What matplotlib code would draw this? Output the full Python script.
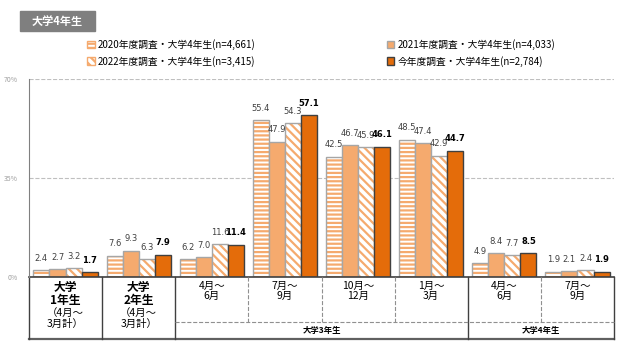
import matplotlib.pyplot as plt
import matplotlib.patches as mpatches
import numpy as np

plt.rcParams['font.family'] = ['Noto Sans CJK JP', 'DejaVu Sans']
plt.rcParams['hatch.linewidth'] = 1.6

series_names = [
    "2020年度調査・大学4年生(n=4,661)",
    "2021年度調査・大学4年生(n=4,033)",
    "2022年度調査・大学4年生(n=3,415)",
    "今年度調査・大学4年生(n=2,784)",
]
v2020 = [2.4, 7.6, 6.2, 55.4, 42.5, 48.5, 4.9, 1.9]
v2021 = [2.7, 9.3, 7.0, 47.9, 46.7, 47.4, 8.4, 2.1]
v2022 = [3.2, 6.3, 11.6, 54.3, 45.9, 42.9, 7.7, 2.4]
v2023 = [1.7, 7.9, 11.4, 57.1, 46.1, 44.7, 8.5, 1.9]

month_labels = ["4月～\n6月", "7月～\n9月", "10月～\n12月", "1月～\n3月", "4月～\n6月", "7月～\n9月"]
year_labels = ["大学\n1年生", "大学\n2年生"]
sub_lines = ["（4月～", "3月計）"]
span_labels = ["大学3年生", "大学4年生"]
yticks = [0, 35, 70]

orange = "#E46C0A"
light = "#F5AA6E"
edge_gray = "#A6A6A6"

fig = plt.figure(figsize=(6.27, 3.53), dpi=100)
ax = fig.add_axes([29 / 627, 1 - 277 / 353, (614 - 29) / 627, (277 - 79) / 353])

x = np.arange(len(v2020))
w = 0.22
offs = [-1.5 * w, -0.5 * w, 0.5 * w, 1.5 * w]

# 2020: horizontal stripes
ax.bar(x + offs[0], v2020, w, color="white", edgecolor=light, hatch="----", linewidth=0)
ax.bar(x + offs[0], v2020, w, fill=False, edgecolor=edge_gray, linewidth=1)
# 2021: solid light orange
ax.bar(x + offs[1], v2021, w, color=light, edgecolor=edge_gray, linewidth=1)
# 2022: diagonal stripes
ax.bar(x + offs[2], v2022, w, color="white", edgecolor=light, hatch="\\\\\\\\", linewidth=0)
ax.bar(x + offs[2], v2022, w, fill=False, edgecolor=edge_gray, linewidth=1)
# this year
ax.bar(x + offs[3], v2023, w, color=orange, edgecolor="#404040", linewidth=1)

for vals, off, bold in [(v2020, offs[0], False), (v2021, offs[1], False),
                        (v2022, offs[2], False), (v2023, offs[3], True)]:
    for xi, v in zip(x, vals):
        ax.text(xi + off, v + 2.6, f"{v:.1f}", ha="center", va="bottom",
                fontsize=6,
                color="black" if bold else "#404040",
                fontweight="bold" if bold else "normal", family="DejaVu Sans")

ax.set_xlim(-0.5, 7.5)
ax.set_ylim(0, 70)
ax.set_yticks(yticks)
ax.set_yticklabels([f"{t}%" for t in yticks], fontsize=5, color="#a0a0a0")
ax.tick_params(axis="y", length=0, pad=8)
ax.set_xticks([])
for t in [35, 70]:
    ax.axhline(t, color="#bfbfbf", linestyle="--", linewidth=0.8, zorder=0)
for s in ["top", "right", "bottom"]:
    ax.spines[s].set_visible(False)
ax.spines["left"].set_color("#808080")

# table below axes
tr = ax.get_xaxis_transform()
bot = -(339 - 277) / 198
mid = -(322 - 277) / 198
lc = "#404040"
ax.plot([-0.5, 7.5], [0, 0], transform=tr, color=lc, lw=1.2, clip_on=False)
ax.plot([-0.5, 7.5], [bot, bot], transform=tr, color="#606060", lw=1.6, clip_on=False)
for xb in [-0.5, 0.5, 1.5, 5.5, 7.5]:
    ax.plot([xb, xb], [0, bot], transform=tr, color=lc, lw=1, clip_on=False)
for xb in [2.5, 3.5, 4.5, 6.5]:
    ax.plot([xb, xb], [0, mid], transform=tr, color="#909090", lw=0.8, ls="--", clip_on=False)
ax.plot([1.5, 7.5], [mid, mid], transform=tr, color="#909090", lw=0.8, ls="--", clip_on=False)

for i, lab in enumerate(year_labels):
    ax.text(i, -0.02, lab, transform=tr, ha="center", va="top", fontsize=8.5,
            fontweight="bold", linespacing=1.0, multialignment="center")
    ax.text(i, -0.18, sub_lines[0], transform=tr, ha="center", va="center", fontsize=7.5)
    ax.text(i, -0.235, sub_lines[1], transform=tr, ha="center", va="center", fontsize=7.5)
for i, lab in enumerate(month_labels):
    ax.text(i + 2, -0.02, lab, transform=tr, ha="center", va="top", fontsize=7.5,
            linespacing=1.0, multialignment="center")
ax.text(3.5, (mid + bot) / 2, span_labels[0], transform=tr, ha="center", va="center",
        fontsize=6, fontweight="bold")
ax.text(6.5, (mid + bot) / 2, span_labels[1], transform=tr, ha="center", va="center",
        fontsize=6, fontweight="bold")

# legend
handles = [
    mpatches.Patch(facecolor="white", edgecolor=light, hatch="----"),
    mpatches.Patch(facecolor="white", edgecolor=light, hatch="\\\\\\\\"),
    mpatches.Patch(facecolor=light, edgecolor=edge_gray),
    mpatches.Patch(facecolor=orange, edgecolor="#404040"),
]
labels = [series_names[0], series_names[2], series_names[1], series_names[3]]
fig.legend(handles, labels, ncol=2, loc="upper left", bbox_to_anchor=(82 / 627, 1 - 34 / 353),
           frameon=False, fontsize=7, handlelength=0.8, handleheight=0.8, handletextpad=0.3,
           columnspacing=13.5, labelspacing=0.6, borderpad=0)

# title box
fig.patches.append(mpatches.Rectangle((20 / 627, 1 - 31 / 353), 75 / 627, 20 / 353,
                                      transform=fig.transFigure, color="#7f7f7f"))
fig.text(57.5 / 627, 1 - 21 / 353, "大学4年生", ha="center", va="center", color="white",
         fontsize=8, fontweight="bold")

fig.savefig("out.png", dpi=100)
